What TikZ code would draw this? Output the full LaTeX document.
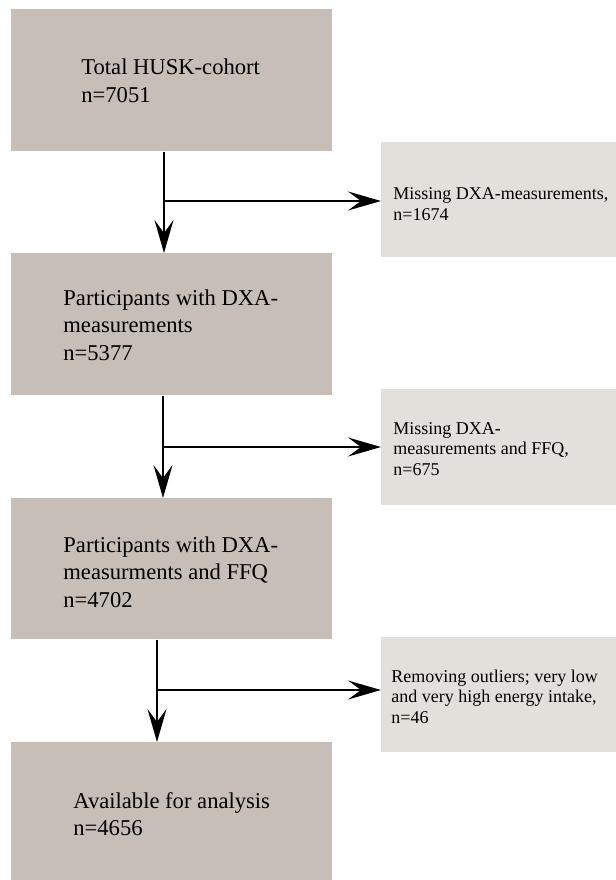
\documentclass[tikz,border=0pt]{standalone}
\usepackage{fontspec}
\setmainfont{Liberation Serif}
\usepackage{xcolor}
\usetikzlibrary{arrows.meta}
\definecolor{stagefill}{RGB}{198,190,183}
\definecolor{dropfill}{RGB}{226,224,218}
\tikzset{
  stage box/.style={
    rectangle,
    fill=stagefill,
    anchor=north west,
    minimum width=160.5pt,
    minimum height=71pt,
    inner sep=0pt,
  },
  drop box/.style={
    rectangle,
    fill=dropfill,
    anchor=north west,
    minimum width=117.5pt,
    minimum height=57.5pt,
    inner sep=0pt,
  },
  stage text/.style={anchor=west, align=left, inner sep=0pt, font=\fontsize{11.3}{13.8}\selectfont},
  drop text/.style={anchor=west, align=left, inner sep=0pt, font=\fontsize{9}{10.2}\selectfont},
  flow arrow/.style={-{Stealth[length=16.5pt,width=9.5pt,inset=6.5pt]}, line width=1pt},
}

\begin{document}
\begin{tikzpicture}[x=0.5pt,y=-0.5pt]
  \useasboundingbox (0,0) rectangle (616,880);

  % main stages
  \node[stage box] (total) at (11,9) {};
  \node[stage box] (dxa) at (11,253) {};
  \node[stage box,minimum height=70.5pt] (dxaffq) at (11,498) {};
  \node[stage box,minimum height=69pt] (analysis) at (11,742) {};

  \node[stage text] (total-txt) at (81,80.5) {Total HUSK-cohort\\n=7051};
  \node[stage text] (dxa-txt) at (63,325) {Participants with DXA-\\measurements\\n=5377};
  \node[stage text] (dxaffq-txt) at (63,572) {Participants with DXA-\\measurments and FFQ\\n=4702};
  \node[stage text] (analysis-txt) at (73,814) {Available for analysis\\n=4656};

  % exclusions
  \node[drop box] (missdxa) at (381,142) {};
  \node[drop box,minimum height=58pt] (missffq) at (381,389) {};
  \node[drop box] (outliers) at (381,637) {};

  \node[drop text] (missdxa-txt) at (393,204) {Missing DXA-measurements,\\n=1674};
  \node[drop text] (missffq-txt) at (393,449) {Missing DXA-\\measurements and FFQ,\\n=675};
  \node[drop text] (outliers-txt) at (391,696.5) {Removing outliers; very low\\and very high energy intake,\\n=46};

  \coordinate (split1) at (164,201);
  \coordinate (split2) at (163,447);
  \coordinate (split3) at (157,690);

  \draw[flow arrow] (total.south -| split1) -- (dxa.north -| split1);
  \draw[flow arrow] (split1) -- (split1 -| missdxa.west);

  \draw[flow arrow] (dxa.south -| split2) -- (dxaffq.north -| split2);
  \draw[flow arrow] (split2) -- (split2 -| missffq.west);

  \draw[flow arrow] (dxaffq.south -| split3) -- (analysis.north -| split3);
  \draw[flow arrow] (split3) -- (split3 -| outliers.west);
\end{tikzpicture}
\end{document}
